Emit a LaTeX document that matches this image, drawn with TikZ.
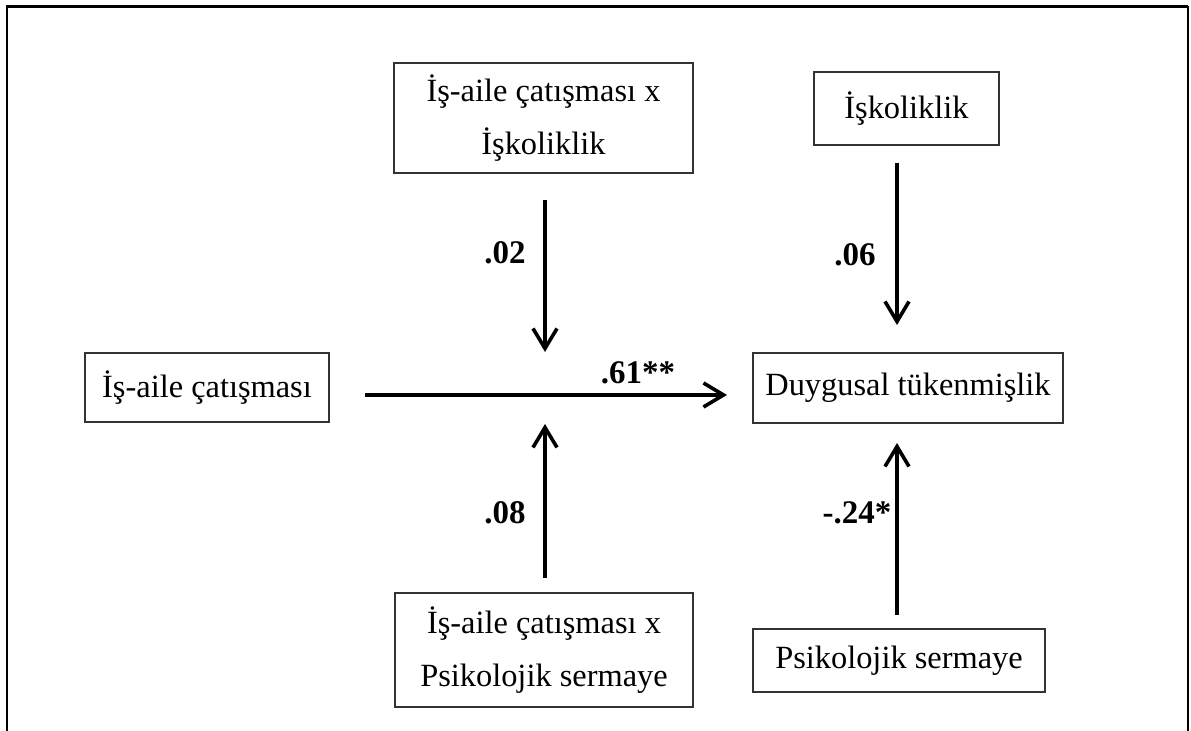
\documentclass[tikz,border=0pt]{standalone}
\usepackage{fontspec}
\setmainfont{Liberation Serif}
\usetikzlibrary{arrows.meta}

\tikzset{
  box/.style={draw=black!80, line width=0.8pt, rectangle, inner sep=0pt,
    align=center, font=\fontsize{16.2pt}{26.5pt}\selectfont},
  path arrow/.style={line width=2pt, -{Straight Barb[length=10pt,width=12pt,line width=1.8pt]}},
  coef/.style={font=\fontsize{16.5pt}{18pt}\selectfont\bfseries, inner sep=0pt},
  frame/.style={line width=1.3pt}
}

\begin{document}
\begin{tikzpicture}[x=0.5pt, y=-0.5pt]
  \useasboundingbox (0,0) rectangle (1191,731);

  % open frame (no bottom edge)
  \draw[frame] (7,731) -- (7,6.5) -- (1188,6.5);
  \draw[line width=0.8pt] (1188,6.5) -- (1188,731);

  % variables
  \node[box, minimum width=149.5pt, minimum height=55pt] (tm) at (543.5,118)
    {İş-aile çatışması x\\İşkoliklik};
  \node[box, minimum width=92.5pt, minimum height=36.5pt] (isk) at (906.5,108.5)
    {İşkoliklik};
  \node[box, minimum width=122pt, minimum height=34.5pt] (iac) at (207,387.5)
    {İş-aile çatışması};
  \node[box, minimum width=155pt, minimum height=35pt] (duy) at (908,388)
    {Duygusal tükenmişlik};
  \node[box, minimum width=149pt, minimum height=57pt] (bm) at (544,650)
    {İş-aile çatışması x\\Psikolojik sermaye};
  \node[box, minimum width=146pt, minimum height=31.5pt] (psk) at (899,660.5)
    {Psikolojik sermaye};

  % arrow end points
  \coordinate (tmS) at (545,200);
  \coordinate (tmE) at (545,352);
  \coordinate (iskS) at (897,163);
  \coordinate (iskE) at (897,325);
  \coordinate (iacS) at (365,395);
  \coordinate (iacE) at (727,395);
  \coordinate (bmS) at (545,578);
  \coordinate (bmE) at (545,424);
  \coordinate (pskS) at (897,615);
  \coordinate (pskE) at (897,443);

  % paths
  \draw[path arrow] (tmS) -- (tmE);
  \draw[path arrow] (iskS) -- (iskE);
  \draw[path arrow] (iacS) -- (iacE);
  \draw[path arrow] (bmS) -- (bmE);
  \draw[path arrow] (pskS) -- (pskE);

  % coefficients
  \node[coef] (c1) at (505,253) {.02};
  \node[coef] (c2) at (855,255) {.06};
  \node[coef] (c3) at (638,373) {.61**};
  \node[coef] (c4) at (505,513) {.08};
  \node[coef] (c5) at (857,513) {-.24*};
\end{tikzpicture}
\end{document}
